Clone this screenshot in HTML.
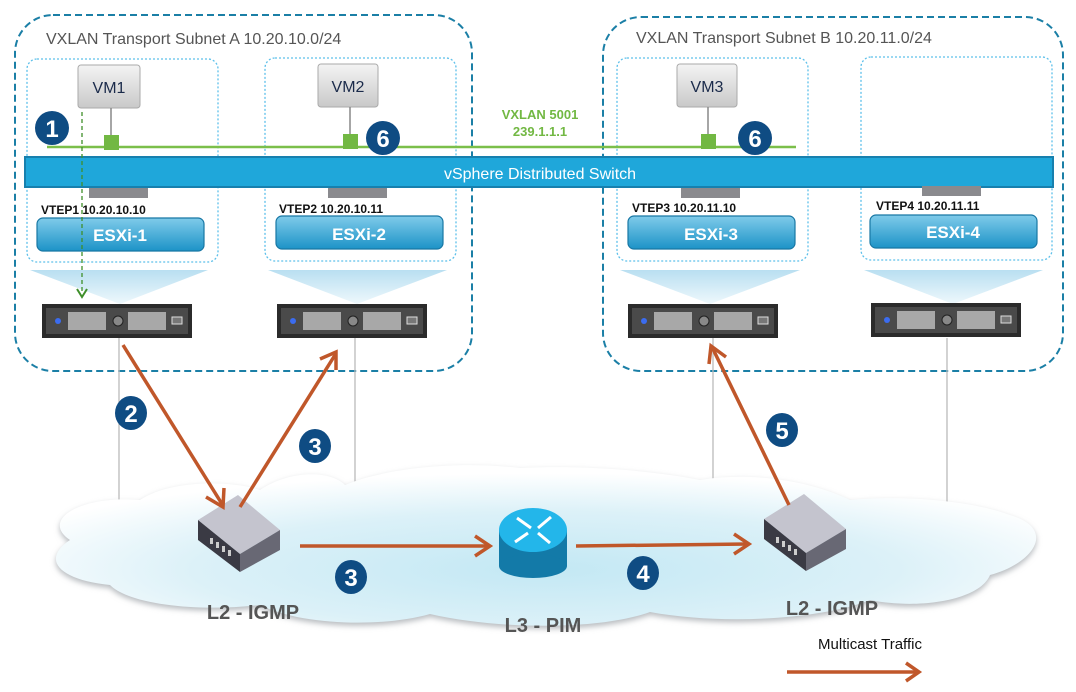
<!DOCTYPE html>
<html><head><meta charset="utf-8"><style>
html,body{margin:0;padding:0;background:#fff;}
svg{display:block;font-family:"Liberation Sans",Arial,sans-serif;}
</style></head><body>
<svg width="1076" height="692" viewBox="0 0 1076 692" xmlns="http://www.w3.org/2000/svg">
<defs>
<linearGradient id="vm" x1="0" y1="0" x2="0" y2="1"><stop offset="0" stop-color="#f4f4f4"/><stop offset="1" stop-color="#c9c9c9"/></linearGradient>
<linearGradient id="esx" x1="0" y1="0" x2="0" y2="1"><stop offset="0" stop-color="#7fcbea"/><stop offset="1" stop-color="#1c93c7"/></linearGradient>
<linearGradient id="tri" x1="0" y1="0" x2="0" y2="1"><stop offset="0" stop-color="#b9dff1"/><stop offset="1" stop-color="#eef8fc"/></linearGradient>
<radialGradient id="cloud" cx="0.5" cy="0.65" r="0.6"><stop offset="0" stop-color="#c3e8f4"/><stop offset="0.6" stop-color="#dcf1f8"/><stop offset="1" stop-color="#ffffff"/></radialGradient>
<filter id="blur"><feGaussianBlur stdDeviation="3"/></filter>
<g id="srv">
<rect x="0" y="0" width="150" height="34" fill="#2b2b2b"/>
<rect x="4" y="4" width="142" height="26" fill="#4a4a4a"/>
<circle cx="16" cy="17" r="3" fill="#3b6cf0"/>
<rect x="26" y="8" width="38" height="18" fill="#a8a8a8"/>
<circle cx="76" cy="17" r="5" fill="#888" stroke="#222"/>
<rect x="86" y="8" width="38" height="18" fill="#a8a8a8"/>
<rect x="130" y="13" width="10" height="7" fill="#777" stroke="#ddd"/>
</g>
<g id="sw">
<polygon points="-42,-8 -2,-33 40,2 0,26" fill="#c4c4ce"/>
<polygon points="-42,-8 0,26 0,44 -42,12" fill="#3a3a44"/>
<polygon points="0,26 40,2 40,22 0,44" fill="#686874"/>
<g fill="#ccc"><rect x="-30" y="10" width="3" height="6"/><rect x="-24" y="14" width="3" height="6"/><rect x="-18" y="18" width="3" height="6"/><rect x="-12" y="22" width="3" height="6"/></g>
</g>
</defs>

<!-- subnet boxes -->
<rect x="15" y="15" width="457" height="356" rx="38" fill="none" stroke="#1b7fa6" stroke-width="2" stroke-dasharray="7,4"/>
<rect x="603" y="17" width="460" height="354" rx="38" fill="none" stroke="#1b7fa6" stroke-width="2" stroke-dasharray="7,4"/>
<text x="46" y="44" font-size="16" fill="#555">VXLAN Transport Subnet A 10.20.10.0/24</text>
<text x="636" y="43" font-size="16" fill="#555">VXLAN Transport Subnet B 10.20.11.0/24</text>

<g fill="none" stroke="#5dc0ea" stroke-width="1.3" stroke-dasharray="2,2">
<rect x="27" y="59" width="191" height="203" rx="10"/>
<rect x="265" y="58" width="191" height="203" rx="10"/>
<rect x="617" y="58" width="191" height="203" rx="10"/>
<rect x="861" y="57" width="191" height="203" rx="10"/>
</g>

<g fill="url(#tri)">
<polygon points="30,270 208,270 120,304"/>
<polygon points="268,270 447,270 357,304"/>
<polygon points="620,270 800,270 710,304"/>
<polygon points="864,270 1043,270 953,304"/>
</g>

<g stroke="#bbb" stroke-width="1.3">
<line x1="119" y1="338" x2="119" y2="520"/>
<line x1="355" y1="338" x2="355" y2="490"/>
<line x1="713" y1="338" x2="713" y2="492"/>
<line x1="947" y1="338" x2="947" y2="520"/>
</g>

<!-- cloud -->
<path d="M70,540 C40,520 80,495 140,500 C170,480 230,480 260,490 C290,470 330,470 345,485 C380,470 450,460 520,468 C580,465 650,470 700,480 C760,470 820,485 850,500 C900,495 970,500 1010,515 C1060,530 1030,565 990,575 C980,600 920,610 870,600 C820,620 720,625 650,612 C600,630 500,630 430,614 C380,628 300,625 260,605 C200,612 130,605 110,585 C60,580 40,560 70,540 Z" fill="#b8bcc0" filter="url(#blur)" transform="translate(0,3)"/>
<path d="M70,540 C40,520 80,495 140,500 C170,480 230,480 260,490 C290,470 330,470 345,485 C380,470 450,460 520,468 C580,465 650,470 700,480 C760,470 820,485 850,500 C900,495 970,500 1010,515 C1060,530 1030,565 990,575 C980,600 920,610 870,600 C820,620 720,625 650,612 C600,630 500,630 430,614 C380,628 300,625 260,605 C200,612 130,605 110,585 C60,580 40,560 70,540 Z" fill="url(#cloud)"/>

<!-- VMs -->
<rect x="78" y="65" width="62" height="43" rx="3" fill="url(#vm)" stroke="#aaa"/>
<rect x="318" y="64" width="60" height="43" rx="3" fill="url(#vm)" stroke="#aaa"/>
<rect x="677" y="64" width="60" height="43" rx="3" fill="url(#vm)" stroke="#aaa"/>
<g font-size="16" fill="#1a2a4a" text-anchor="middle">
<text x="109" y="93">VM1</text><text x="348" y="92">VM2</text><text x="707" y="92">VM3</text>
</g>
<g stroke="#888" stroke-width="1.5">
<line x1="111" y1="108" x2="111" y2="140"/><line x1="350" y1="107" x2="350" y2="140"/><line x1="708" y1="107" x2="708" y2="140"/>
</g>

<line x1="47" y1="147" x2="796" y2="147" stroke="#7bbf4a" stroke-width="2.5"/>
<g fill="#72b843">
<rect x="104" y="135" width="15" height="15"/><rect x="343" y="134" width="15" height="15"/><rect x="701" y="134" width="15" height="15"/>
</g>
<text x="540" y="119" font-size="13" font-weight="bold" fill="#72b843" text-anchor="middle">VXLAN 5001</text>
<text x="540" y="136" font-size="13" font-weight="bold" fill="#72b843" text-anchor="middle">239.1.1.1</text>

<rect x="25" y="157" width="1028" height="30" fill="#1fa7da" stroke="#1780ae" stroke-width="2"/>
<text x="540" y="179" font-size="16" fill="#fff" text-anchor="middle">vSphere Distributed Switch</text>
<g fill="#8a8a8e">
<rect x="89" y="188" width="59" height="10"/><rect x="328" y="188" width="59" height="10"/><rect x="681" y="188" width="59" height="10"/><rect x="922" y="186" width="59" height="10"/>
</g>

<g font-size="12" font-weight="bold" fill="#111">
<text x="41" y="214">VTEP1 10.20.10.10</text><text x="279" y="213">VTEP2 10.20.10.11</text>
<text x="632" y="212">VTEP3 10.20.11.10</text><text x="876" y="210">VTEP4 10.20.11.11</text>
</g>
<g stroke="#1877a4" stroke-width="1.2" fill="url(#esx)">
<rect x="37" y="218" width="167" height="33" rx="6"/><rect x="276" y="216" width="167" height="33" rx="6"/>
<rect x="628" y="216" width="167" height="33" rx="6"/><rect x="870" y="215" width="167" height="33" rx="6"/>
</g>
<g font-size="17" font-weight="bold" fill="#fff" text-anchor="middle">
<text x="120" y="241">ESXi-1</text><text x="359" y="240">ESXi-2</text><text x="711" y="240">ESXi-3</text><text x="953" y="238">ESXi-4</text>
</g>

<use href="#srv" x="42" y="304"/><use href="#srv" x="277" y="304"/><use href="#srv" x="628" y="304"/><use href="#srv" x="871" y="303"/>

<line x1="82" y1="112" x2="82" y2="292" stroke="#3f8f2a" stroke-width="1.3" stroke-dasharray="4,3"/>
<polyline points="77,289 82,297 87,289" fill="none" stroke="#3f8f2a" stroke-width="2"/>

<use href="#sw" x="240" y="528"/>
<use href="#sw" x="806" y="527"/>
<g>
<rect x="499" y="530" width="68" height="36" fill="#137aa8"/>
<ellipse cx="533" cy="566" rx="34" ry="12" fill="#137aa8"/>
<ellipse cx="533" cy="530" rx="34" ry="22" fill="#23b6ea"/>
<g stroke="#fff" stroke-width="3" fill="none">
<line x1="517" y1="518" x2="531" y2="528"/><line x1="551" y1="517" x2="538" y2="528"/>
<line x1="515" y1="542" x2="528" y2="533"/><line x1="550" y1="543" x2="538" y2="533"/>
</g>
</g>

<g stroke="#c0572a" stroke-width="3.5" fill="none">
<line x1="123" y1="345" x2="222" y2="504"/><polyline points="206,497 223,507 224,488"/>
<line x1="240" y1="507" x2="335" y2="355"/><polyline points="320,359 336,352 336,370"/>
<line x1="300" y1="546" x2="489" y2="546"/><polyline points="475,536 490,546 475,556"/>
<line x1="576" y1="546" x2="748" y2="544"/><polyline points="734,534 749,544 734,554"/>
<line x1="789" y1="505" x2="712" y2="347"/><polyline points="709,364 711,346 726,357"/>
<line x1="787" y1="672" x2="918" y2="672"/><polyline points="906,663 919,672 906,681"/>
</g>

<g fill="#0f4c83">
<circle cx="52" cy="128" r="17"/><circle cx="383" cy="138" r="17"/><circle cx="755" cy="138" r="17"/>
<ellipse cx="131" cy="413" rx="16" ry="17"/><ellipse cx="315" cy="446" rx="16" ry="17"/>
<ellipse cx="351" cy="577" rx="16" ry="17"/><ellipse cx="643" cy="573" rx="16" ry="17"/><ellipse cx="782" cy="430" rx="16" ry="17"/>
</g>
<g font-size="24" font-weight="bold" fill="#fff" text-anchor="middle">
<text x="52" y="137">1</text><text x="383" y="147">6</text><text x="755" y="147">6</text>
<text x="131" y="422">2</text><text x="315" y="455">3</text><text x="351" y="586">3</text><text x="643" y="582">4</text><text x="782" y="439">5</text>
</g>

<g font-size="20" font-weight="bold" fill="#555" text-anchor="middle">
<text x="253" y="619">L2 - IGMP</text><text x="543" y="632">L3 - PIM</text><text x="832" y="615">L2 - IGMP</text>
</g>
<text x="870" y="649" font-size="15" fill="#111" text-anchor="middle">Multicast Traffic</text>
</svg>
</body></html>
